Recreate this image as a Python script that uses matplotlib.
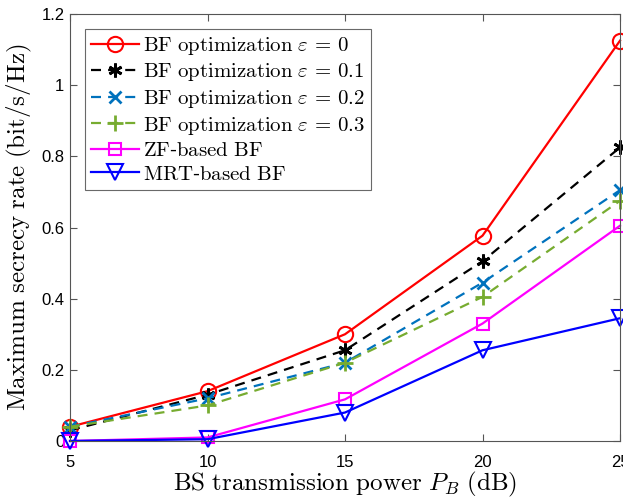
import matplotlib
matplotlib.use("Agg")
import matplotlib.pyplot as plt

plt.rcParams['font.family'] = ['Liberation Sans', 'DejaVu Sans']
plt.rcParams['mathtext.fontset'] = 'cm'

power_db = [5, 10, 15, 20, 25]

bf_eps0 = [0.04, 0.14, 0.30, 0.577, 1.125]
bf_eps01 = [0.03, 0.13, 0.255, 0.505, 0.825]
bf_eps02 = [0.04, 0.12, 0.22, 0.445, 0.705]
bf_eps03 = [0.04, 0.10, 0.22, 0.405, 0.675]
zf_bf = [0.0, 0.01, 0.117, 0.33, 0.605]
mrt_bf = [0.0, 0.005, 0.08, 0.255, 0.345]

labels = [
    r'$\mathrm{BF\ optimization}\ \varepsilon\,=\,0$',
    r'$\mathrm{BF\ optimization}\ \varepsilon\,=\,0.1$',
    r'$\mathrm{BF\ optimization}\ \varepsilon\,=\,0.2$',
    r'$\mathrm{BF\ optimization}\ \varepsilon\,=\,0.3$',
    r'$\mathrm{ZF}$-$\mathrm{based\ BF}$',
    r'$\mathrm{MRT}$-$\mathrm{based\ BF}$',
]

fig = plt.figure(figsize=(6.23, 5.01), dpi=100)
ax = fig.add_axes([70/623, 60/501, 550/623, 427/501])

lw = 1.6
dash = (4.5, 3.2)
ax.plot(power_db, bf_eps0, '-', color='red', marker='o', ms=11, mfc='none', mew=1.5, lw=lw, label=labels[0], clip_on=False)
ax.plot(power_db, bf_eps01, '--', dashes=dash, color='black', marker=(6, 2, 0), ms=10, mew=2, lw=lw, label=labels[1], clip_on=False)
ax.plot(power_db, bf_eps02, '--', dashes=dash, color='#0072BD', marker='x', ms=8, mew=2, lw=lw, label=labels[2], clip_on=False)
ax.plot(power_db, bf_eps03, '--', dashes=dash, color='#77AC30', marker='+', ms=12, mew=2, lw=lw, label=labels[3], clip_on=False)
ax.plot(power_db, zf_bf, '-', color='magenta', marker='s', ms=9, mfc='none', mew=1.5, lw=lw, label=labels[4], clip_on=False)
ax.plot(power_db, mrt_bf, '-', color='blue', marker='v', ms=12, mfc='none', mew=1.5, lw=lw, label=labels[5], clip_on=False)

ax.set_xlim(5, 25)
ax.set_ylim(0, 1.2)
ax.set_xticks([5, 10, 15, 20, 25])
ax.set_yticks([0, 0.2, 0.4, 0.6, 0.8, 1.0, 1.2])
ax.set_yticklabels(['0', '0.2', '0.4', '0.6', '0.8', '1', '1.2'])
ax.tick_params(direction='in', top=True, right=True, labelsize=12, length=5, color='#555555')
ax.tick_params(axis='x', pad=10)
ax.tick_params(axis='y', pad=4)
for sp in ax.spines.values():
    sp.set_color('#555555')
    sp.set_linewidth(0.8)

ax.set_xlabel(r'$\mathrm{BS\ transmission\ power}\ P_B\ \mathrm{(dB)}$', fontsize=18, labelpad=0)
ax.set_ylabel(r'$\mathrm{Maximum\ secrecy\ rate\ (bit/s/Hz)}$', fontsize=18, labelpad=5)

leg = ax.legend(loc='upper left', fontsize=15, handlelength=2.3, handletextpad=0.2,
                borderaxespad=0.7, labelspacing=0.22, borderpad=0.3, fancybox=False)
leg.get_frame().set_edgecolor('#444444')
leg.get_frame().set_linewidth(0.8)

fig.savefig('out.png', dpi=100)
